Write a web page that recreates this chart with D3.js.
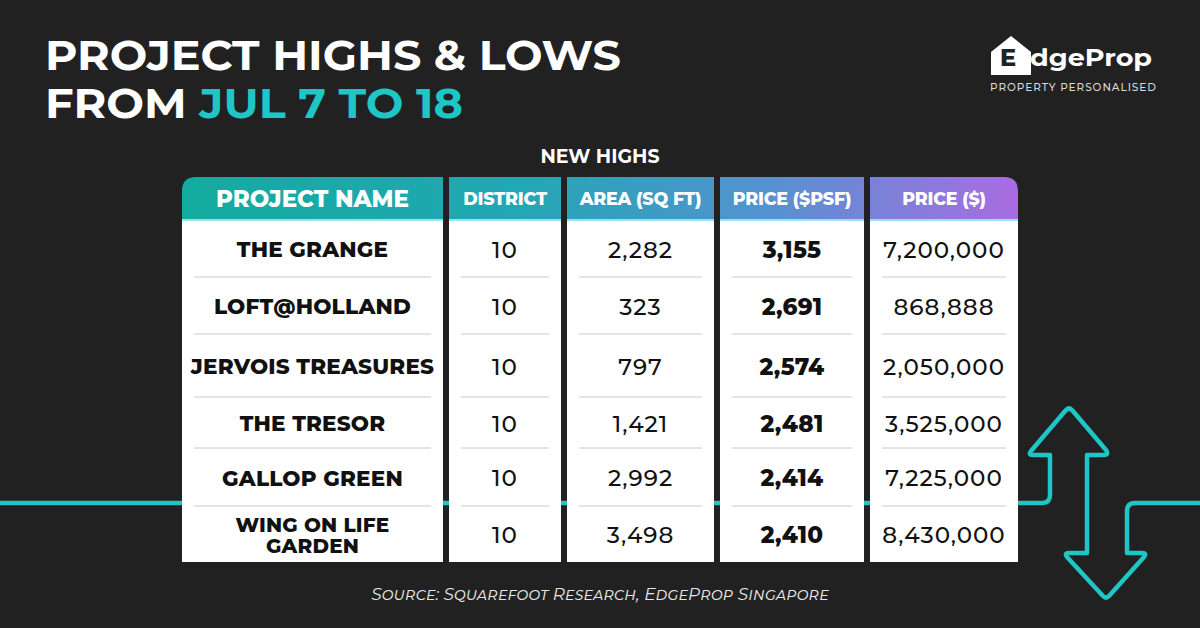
<!DOCTYPE html>
<html><head><meta charset="utf-8">
<script src="https://cdn.jsdelivr.net/npm/d3@7"></script>
<style>
html,body{margin:0;padding:0;background:#212121;}
svg{display:block;}
</style></head>
<body>
<svg id="c" width="1200" height="628"></svg>
<script>
// ---- data ----
const projects = ["THE GRANGE", "LOFT@HOLLAND", "JERVOIS TREASURES", "THE TRESOR", "GALLOP GREEN", "WING ON LIFE GARDEN"];
const districts = [10, 10, 10, 10, 10, 10];
const areas = [2282, 323, 797, 1421, 2992, 3498];
const pricePsf = [3155, 2691, 2574, 2481, 2414, 2410];
const prices = [7200000, 868888, 2050000, 3525000, 7225000, 8430000];
const columns = ["PROJECT NAME", "DISTRICT", "AREA (SQ FT)", "PRICE ($PSF)", "PRICE ($)"];
const titleLine1 = "PROJECT HIGHS & LOWS";
const titleLine2a = "FROM ";
const titleLine2b = "JUL 7 TO 18";
const subtitle = "NEW HIGHS";
const source = "Source: Squarefoot Research, EdgeProp Singapore";

const FONT = "Montserrat, 'Open Sans', Lato, sans-serif";
const TEAL = "#1ec6c6";
const svg = d3.select("#c");
svg.append("rect").attr("width",1200).attr("height",628).attr("fill","#212121");

// gradient for header
const defs = svg.append("defs");
const grad = defs.append("linearGradient").attr("id","hg").attr("gradientUnits","userSpaceOnUse")
  .attr("x1",182).attr("x2",1018).attr("y1",0).attr("y2",0);
grad.append("stop").attr("offset","0%").attr("stop-color","#13ab9f");
grad.append("stop").attr("offset","40%").attr("stop-color","#22a7b4");
grad.append("stop").attr("offset","70%").attr("stop-color","#5592cf");
grad.append("stop").attr("offset","100%").attr("stop-color","#a96ce2");

// ---- decorative arrow line ----
svg.append("path")
  .attr("d","M0,503 H1042 Q1050,503 1050,495 V455 H1033 Q1028,455 1031,451 L1066,410 Q1069,407 1072,410 L1106,450 Q1109,455 1104,455 H1087 V553 H1069 Q1064,553 1067,557 L1103,596 Q1106,599 1109,596 L1144,557 Q1147,553 1142,553 H1127 V511 Q1127,503 1135,503 H1200")
  .attr("fill","none").attr("stroke",TEAL).attr("stroke-width",4.5).attr("stroke-linejoin","round");

// ---- title ----
svg.append("text").attr("x",45).attr("y",70).attr("fill","#fff")
  .attr("font-family",FONT).attr("font-weight",700).attr("font-size",42)
  .attr("textLength",576).attr("lengthAdjust","spacingAndGlyphs").text(titleLine1);
const t2 = svg.append("text").attr("x",45).attr("y",118)
  .attr("font-family",FONT).attr("font-weight",700).attr("font-size",42)
  .attr("textLength",418).attr("lengthAdjust","spacingAndGlyphs");
t2.append("tspan").attr("fill","#fff").text(titleLine2a);
t2.append("tspan").attr("fill",TEAL).text(titleLine2b);

// ---- logo ----
const logo = svg.append("g");
logo.append("path").attr("d","M991,75 V52 L1011,36 L1031,52 V75 Z").attr("fill","#fff");
logo.append("text").attr("x",1000).attr("y",66).attr("fill","#212121")
  .attr("font-family",FONT).attr("font-weight",800).attr("font-size",24).text("E");
logo.append("text").attr("x",1030).attr("y",66).attr("fill","#fff")
  .attr("font-family",FONT).attr("font-weight",700).attr("font-size",24)
  .attr("textLength",122).attr("lengthAdjust","spacingAndGlyphs").text("dgeProp");
logo.append("text").attr("x",990).attr("y",91).attr("fill","#d8d8d8")
  .attr("font-family",FONT).attr("font-weight",500).attr("font-size",10.5)
  .attr("textLength",166).attr("lengthAdjust","spacing").text("PROPERTY PERSONALISED");

// ---- subtitle ----
svg.append("text").attr("x",600).attr("y",163).attr("text-anchor","middle").attr("fill","#fff")
  .attr("font-family",FONT).attr("font-weight",700).attr("font-size",19).text(subtitle);

// ---- table ----
const colEdges = [[182,443],[449,561],[567,714],[720,864],[870,1018]];
const headTop = 177, headBot = 219, bodyBot = 562;
const rowIdx = d3.range(projects.length);
// row boundaries (uneven, as in the original layout)
const yTop = d3.scaleOrdinal().domain(rowIdx).range([220, 277, 334, 397, 448, 506]);
const yBot = d3.scaleOrdinal().domain(rowIdx).range([277, 334, 397, 448, 506, bodyBot]);

const fmt = d3.format(",");
const cellText = [
  projects,
  districts.map(String),
  areas.map(fmt),
  pricePsf.map(fmt),
  prices.map(fmt)
];
const bold = [true,false,false,true,false];

// header
colEdges.forEach(([x0,x1],i)=>{
  const r = 14;
  let d;
  if (i===0) d = `M${x0},${headBot} V${headTop+r} Q${x0},${headTop} ${x0+r},${headTop} H${x1} V${headBot} Z`;
  else if (i===colEdges.length-1) d = `M${x0},${headBot} V${headTop} H${x1-r} Q${x1},${headTop} ${x1},${headTop+r} V${headBot} Z`;
  else d = `M${x0},${headBot} V${headTop} H${x1} V${headBot} Z`;
  svg.append("path").attr("d",d).attr("fill","url(#hg)");
  svg.append("text").attr("x",(x0+x1)/2).attr("y",(headTop+headBot)/2+1).attr("dy","0.36em")
    .attr("text-anchor","middle").attr("fill","#fff")
    .attr("font-family",FONT).attr("font-weight",800).attr("font-size", i===0?23:17.5)
    .attr("letter-spacing", i===0?0:-0.2)
    .text(columns[i]);
  // body
  svg.append("rect").attr("x",x0).attr("y",headBot).attr("width",x1-x0).attr("height",bodyBot-headBot).attr("fill","#fff");
  svg.append("line").attr("x1",x0).attr("x2",x1).attr("y1",headBot+1).attr("y2",headBot+1)
    .attr("stroke","#9be3ea").attr("stroke-width",2);
  // separators
  svg.selectAll(null).data(rowIdx.slice(1)).enter().append("line")
    .attr("x1",x0+12).attr("x2",x1-12)
    .attr("y1",d=>yTop(d)).attr("y2",d=>yTop(d))
    .attr("stroke","#c8c8c8").attr("stroke-width",1);
  // cells
  const g = svg.append("g");
  cellText[i].forEach((v,k)=>{
    const cy = (yTop(k)+yBot(k))/2 + 1;
    const t = g.append("text").attr("x",(x0+x1)/2).attr("text-anchor","middle").attr("fill","#111")
      .attr("font-family",FONT).attr("font-weight",bold[i]?800:500)
      .attr("font-size",i===0?21.5:23).attr("letter-spacing", i===0?0.2:(bold[i]?0.3:1));
    if (i===0 && v.length>18) {
      const words = v.split(" ");
      const l1 = words.slice(0,3).join(" "), l2 = words.slice(3).join(" ");
      t.attr("font-size",20);
      t.append("tspan").attr("x",(x0+x1)/2).attr("y",cy-10).attr("dy","0.36em").text(l1);
      t.append("tspan").attr("x",(x0+x1)/2).attr("y",cy+11).attr("dy","0.36em").text(l2);
    } else {
      t.attr("y",cy).attr("dy","0.36em").text(v);
    }
  });
});

// ---- source ----
svg.append("text").attr("x",600).attr("y",600).attr("text-anchor","middle").attr("fill","#e6e6e6")
  .attr("font-family",FONT).attr("font-style","italic").attr("font-size",17)
  .attr("font-variant","small-caps").text(source);
</script>
</body></html>
